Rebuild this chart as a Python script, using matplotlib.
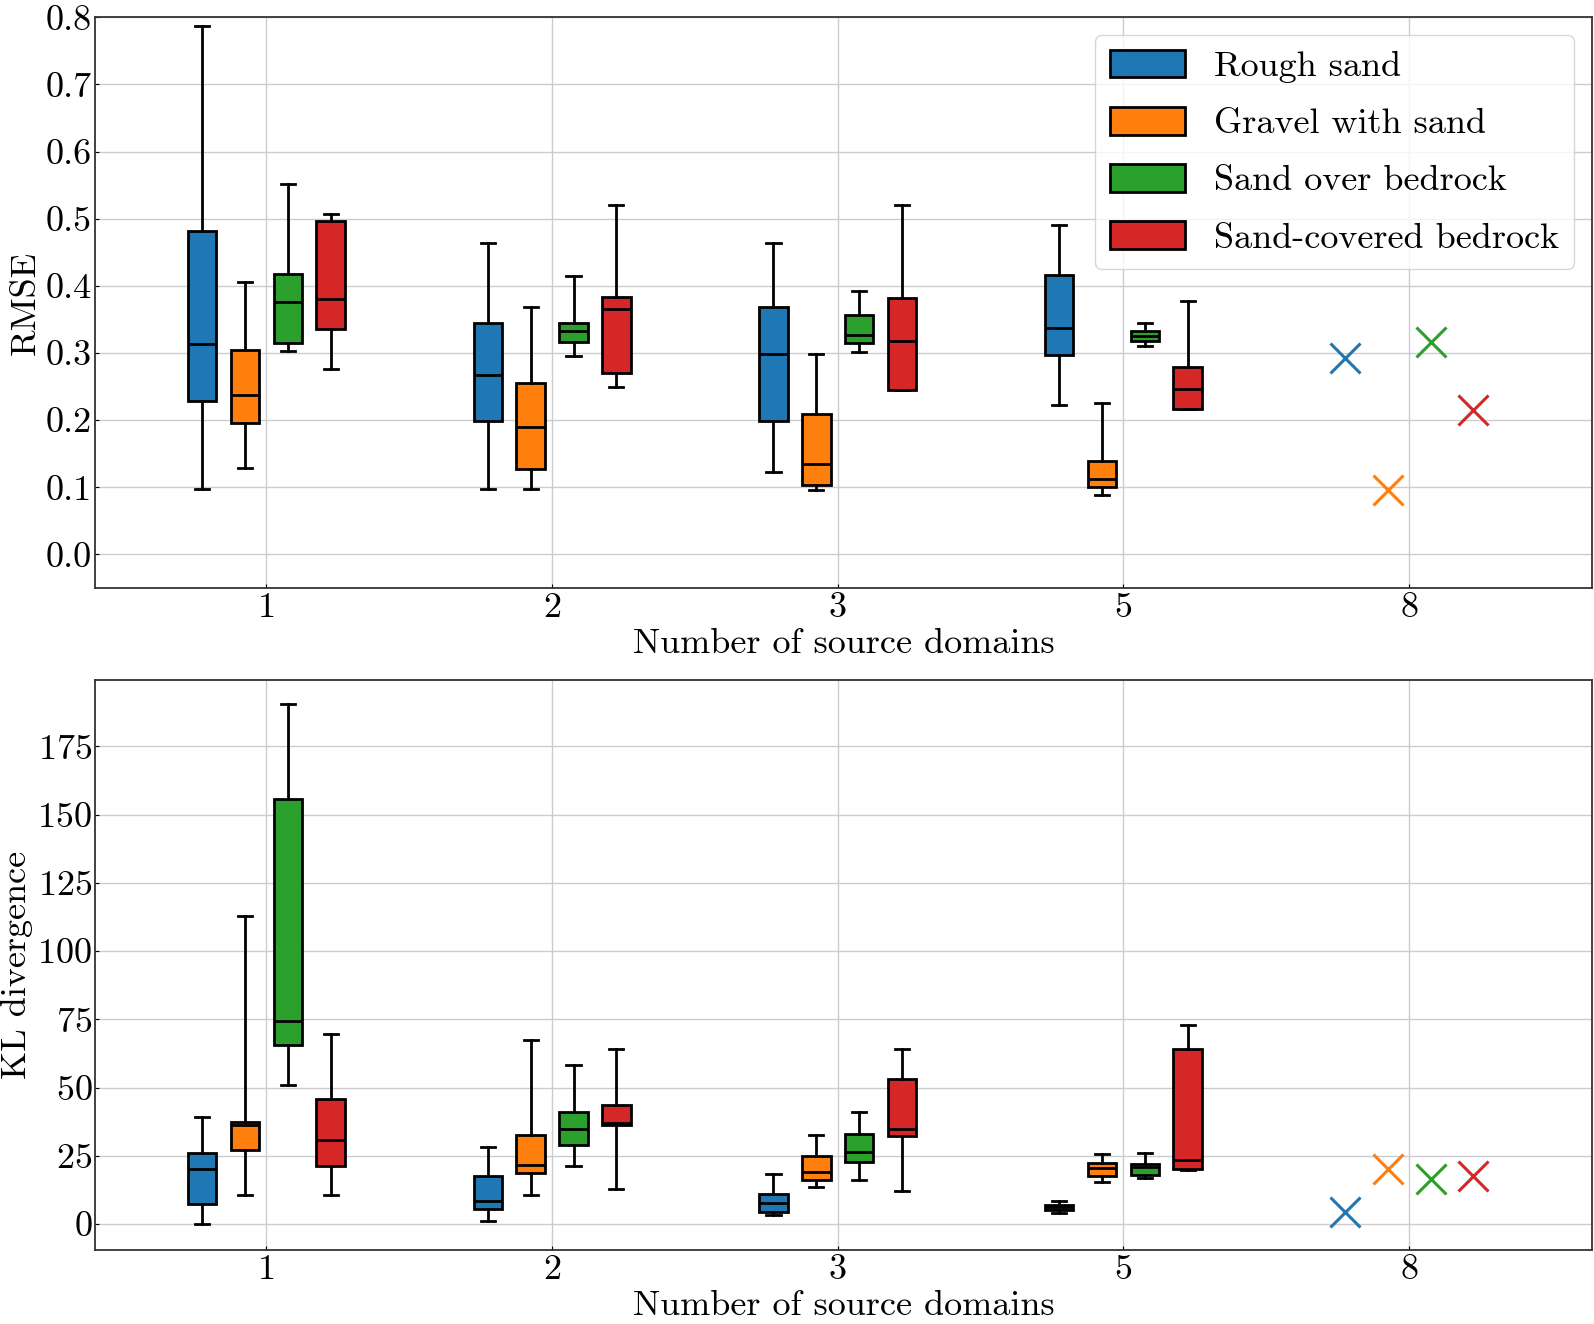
import matplotlib
matplotlib.use("Agg")
import matplotlib.pyplot as plt
import matplotlib.ticker as mticker
from matplotlib.patches import Patch

plt.rcParams['font.family'] = 'serif'
plt.rcParams['font.serif'] = ['cmr10']
plt.rcParams['mathtext.fontset'] = 'cm'
plt.rcParams['axes.formatter.use_mathtext'] = True
plt.rcParams['font.size'] = 26

# ---------------- data ----------------
group_labels = ["1", "2", "3", "5", "8"]
classes = ["Rough sand", "Gravel with sand", "Sand over bedrock", "Sand-covered bedrock"]
colors = ["#1f77b4", "#ff7f0e", "#2ca02c", "#d62728"]

# [whisker low, Q1, median, Q3, whisker high] for groups 1, 2, 3, 5
rmse_rough = [[0.097, 0.228, 0.314, 0.481, 0.787],
              [0.097, 0.198, 0.267, 0.345, 0.464],
              [0.122, 0.198, 0.298, 0.369, 0.464],
              [0.222, 0.297, 0.337, 0.416, 0.490]]
rmse_gravel = [[0.129, 0.195, 0.238, 0.304, 0.406],
               [0.097, 0.127, 0.190, 0.255, 0.369],
               [0.096, 0.103, 0.134, 0.209, 0.298],
               [0.089, 0.101, 0.113, 0.139, 0.225]]
rmse_sandover = [[0.303, 0.315, 0.376, 0.418, 0.551],
                 [0.295, 0.316, 0.332, 0.345, 0.415],
                 [0.302, 0.315, 0.327, 0.357, 0.393],
                 [0.310, 0.318, 0.325, 0.332, 0.344]]
rmse_sandcov = [[0.276, 0.335, 0.381, 0.497, 0.507],
                [0.250, 0.270, 0.366, 0.383, 0.521],
                [0.245, 0.245, 0.318, 0.382, 0.521],
                [0.216, 0.216, 0.247, 0.279, 0.378]]
rmse_8 = [0.293, 0.096, 0.316, 0.215]

kl_rough = [[0.0, 7.5, 20.2, 26.1, 39.3],
            [1.3, 5.7, 8.5, 17.5, 28.2],
            [3.4, 4.5, 7.6, 10.9, 18.4],
            [4.0, 5.2, 6.3, 7.0, 8.5]]
kl_gravel = [[10.5, 27.0, 36.4, 37.3, 112.7],
             [10.5, 18.7, 21.7, 32.8, 67.3],
             [13.6, 16.0, 19.2, 24.9, 32.7],
             [15.3, 17.5, 20.4, 22.5, 25.6]]
kl_sandover = [[50.8, 65.5, 74.3, 155.8, 190.4],
               [21.4, 29.1, 34.8, 40.9, 58.4],
               [16.0, 22.8, 26.4, 33.1, 41.2],
               [16.8, 17.8, 20.8, 21.9, 26.1]]
kl_sandcov = [[10.5, 21.3, 30.9, 45.8, 69.7],
              [12.9, 36.4, 37.0, 43.6, 64.0],
              [12.1, 32.1, 34.8, 53.3, 64.0],
              [19.9, 20.2, 23.5, 64.1, 72.8]]
kl_8 = [4.6, 20.2, 16.5, 17.5]

offsets = [-0.225, -0.075, 0.075, 0.225]
box_width = 0.1

fig = plt.figure(figsize=(15.94, 13.24), dpi=100)
ax1 = fig.add_axes([0.0596, 0.5559, 0.9391, 0.4311])
ax2 = fig.add_axes([0.0596, 0.0559, 0.9391, 0.4308])


def draw(ax, series, singles, ylabel, ylim, yticks):
    ax.set_axisbelow(True)
    ax.grid(True, color="#cccccc", linewidth=1.0)
    for ci, (data, color) in enumerate(zip(series, colors)):
        stats = []
        pos = []
        for gi, (lo, q1, med, q3, hi) in enumerate(data):
            stats.append(dict(whislo=lo, q1=q1, med=med, q3=q3, whishi=hi, fliers=[]))
            pos.append(gi + offsets[ci])
        ax.bxp(stats, positions=pos, widths=box_width, patch_artist=True,
               showfliers=False,
               boxprops=dict(facecolor=color, edgecolor="black", linewidth=2.0),
               medianprops=dict(color="black", linewidth=2.0),
               whiskerprops=dict(color="black", linewidth=2.0),
               capprops=dict(color="black", linewidth=2.0),
               manage_ticks=False)
        ax.plot([4 + offsets[ci]], [singles[ci]], marker="x", color=color,
                markersize=22, markeredgewidth=2.2, linestyle="none")
    ax.set_xlim(-0.6, 4.64)
    ax.set_ylim(*ylim)
    ax.set_yticks(yticks)
    ax.set_xticks(range(len(group_labels)))
    ax.set_xticklabels(group_labels)
    ax.set_xlabel("Number of source domains", labelpad=3)
    ax.set_ylabel(ylabel, labelpad=3)
    ax.tick_params(direction="in", length=3, width=0.8)
    ax.tick_params(axis="y", pad=2)
    ax.tick_params(axis="x", pad=3)
    for s in ax.spines.values():
        s.set_color("#333333")
        s.set_linewidth(1.3)


draw(ax1, [rmse_rough, rmse_gravel, rmse_sandover, rmse_sandcov], rmse_8,
     "RMSE", (-0.05, 0.8), [0.0, 0.1, 0.2, 0.3, 0.4, 0.5, 0.6, 0.7, 0.8])
ax1.yaxis.set_major_formatter(mticker.FormatStrFormatter("%.1f"))
draw(ax2, [kl_rough, kl_gravel, kl_sandover, kl_sandcov], kl_8,
     "KL divergence", (-9.5, 199.5), [0, 25, 50, 75, 100, 125, 150, 175])

handles = [Patch(facecolor=c, edgecolor="black", linewidth=2.0) for c in colors]
ax1.legend(handles, classes, loc="upper right", handlelength=2.1, handleheight=0.8,
           labelspacing=0.66, handletextpad=0.8, fancybox=True, framealpha=0.8,
           edgecolor="#cccccc")

fig.savefig("out.png", dpi=100)
